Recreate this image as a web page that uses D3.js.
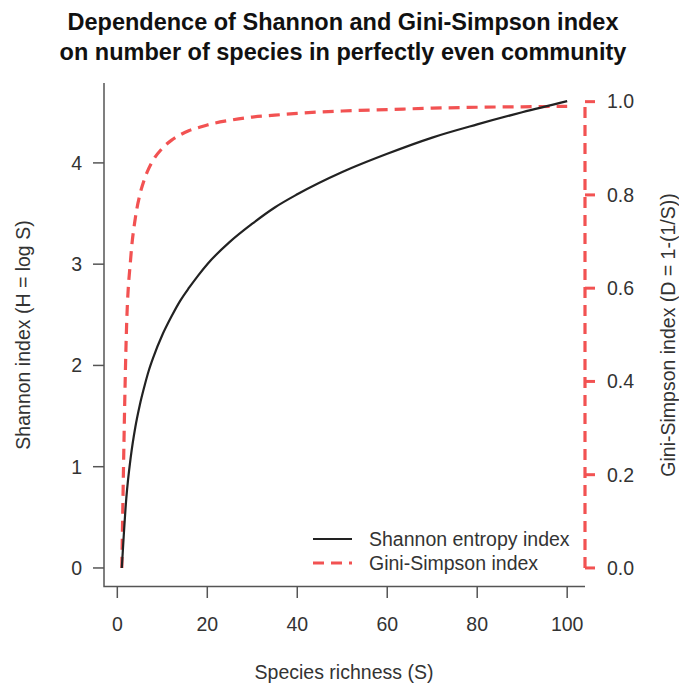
<!DOCTYPE html>
<html lang="en">
  <head>
    <meta charset="UTF-8" />
    <title>Shannon vs Gini-Simpson</title>
    <style>
      body { margin: 0; background: #fff; }
      svg text { font-family: "Liberation Sans", Arial, sans-serif; fill: #333; }
    </style>
  </head>
  <body>
    <svg id="svg" width="679" height="683"></svg>
    <script src="https://d3js.org/d3.v7.min.js"></script>
    <script>
      // species richness and the two indices
      const species = [1, 2, 3, 4, 5, 6, 7, 8, 10, 12, 14, 16, 18, 20, 25, 30, 35, 40, 50, 60, 70, 80, 90, 100];
      const shannon = [0, 0.69, 1.10, 1.39, 1.61, 1.79, 1.95, 2.08, 2.30, 2.48, 2.64, 2.77, 2.89, 3.00, 3.22, 3.40, 3.56, 3.69, 3.91, 4.09, 4.25, 4.38, 4.50, 4.61];
      const gini = [0, 0.5, 0.667, 0.75, 0.8, 0.833, 0.857, 0.875, 0.9, 0.917, 0.929, 0.938, 0.944, 0.95, 0.96, 0.967, 0.971, 0.975, 0.98, 0.983, 0.986, 0.988, 0.989, 0.99];
      const xTicks = [0, 20, 40, 60, 80, 100];
      const leftTicks = [0, 1, 2, 3, 4];
      const rightTicks = [0, 0.2, 0.4, 0.6, 0.8, 1.0];

      const red = "#f25252";
      const axisCol = "#555";
      const fs = "19.5px";
      const svg = d3.select("#svg");

      // plot region (R style, 4% padding)
      const x = d3.scaleLinear().domain([-2.96, 103.96]).range([104, 585]);
      const yL = d3.scaleLinear().domain([-0.184, 4.789]).range([586.6, 83]);
      const yR = d3.scaleLinear().domain([-0.04, 1.04]).range([586.6, 83]);

      const pts = species.map((s, i) => ({ s, h: shannon[i], d: gini[i] }));

      // title
      svg.append("text").attr("x", 343).attr("y", 22).attr("dy", "0.35em").attr("text-anchor", "middle")
        .style("font-weight", "bold").style("font-size", "23.5px").style("fill", "#111")
        .text("Dependence of Shannon and Gini-Simpson index");
      svg.append("text").attr("x", 343).attr("y", 52).attr("dy", "0.35em").attr("text-anchor", "middle")
        .style("font-weight", "bold").style("font-size", "23.5px").style("fill", "#111")
        .text("on number of species in perfectly even community");

      // left + bottom axis lines (bty="l")
      svg.append("path")
        .attr("d", `M${x.range()[0]},${yL.range()[1]}V${yL.range()[0]}H${x.range()[1]}`)
        .attr("fill", "none").attr("stroke", axisCol).attr("stroke-width", 1.5);

      // left ticks
      const gl = svg.append("g");
      gl.selectAll("line").data(leftTicks).join("line")
        .attr("x1", 93).attr("x2", 104)
        .attr("y1", d => yL(d)).attr("y2", d => yL(d))
        .attr("stroke", axisCol).attr("stroke-width", 1.5);
      gl.selectAll("text").data(leftTicks).join("text")
        .attr("x", 82).attr("y", d => yL(d)).attr("dy", "0.35em")
        .attr("text-anchor", "end").style("font-size", fs)
        .text(d => d);

      // bottom ticks
      const gb = svg.append("g");
      gb.selectAll("line").data(xTicks).join("line")
        .attr("x1", d => x(d)).attr("x2", d => x(d))
        .attr("y1", 586.6).attr("y2", 598)
        .attr("stroke", axisCol).attr("stroke-width", 1.5);
      gb.selectAll("text").data(xTicks).join("text")
        .attr("x", d => x(d)).attr("y", 624).attr("dy", "0.35em")
        .attr("text-anchor", "middle").style("font-size", fs)
        .text(d => d);

      // right axis, red dashed
      const gr = svg.append("g");
      gr.append("line")
        .attr("x1", 585).attr("x2", 585)
        .attr("y1", yR(0)).attr("y2", yR(1))
        .attr("stroke", red).attr("stroke-width", 3.2).attr("stroke-dasharray", "11,7");
      gr.selectAll("line.tk").data(rightTicks).join("line").attr("class", "tk")
        .attr("x1", 585).attr("x2", 595)
        .attr("y1", d => yR(d)).attr("y2", d => yR(d))
        .attr("stroke", red).attr("stroke-width", 3);
      gr.selectAll("text").data(rightTicks).join("text")
        .attr("x", 607).attr("y", d => yR(d)).attr("dy", "0.35em")
        .style("font-size", fs)
        .text(d => d.toFixed(1));

      // axis titles
      svg.append("text").attr("x", 344).attr("y", 672).attr("dy", "0.35em")
        .attr("text-anchor", "middle").style("font-size", fs)
        .text("Species richness (S)");
      svg.append("text").attr("transform", "translate(23,335) rotate(-90)")
        .attr("dy", "0.35em").attr("text-anchor", "middle").style("font-size", fs)
        .text("Shannon index (H = log S)");
      svg.append("text").attr("transform", "translate(668,335) rotate(-90)")
        .attr("dy", "0.35em").attr("text-anchor", "middle").style("font-size", fs)
        .text("Gini-Simpson index (D = 1-(1/S))");

      // lines
      svg.append("path").datum(pts)
        .attr("d", d3.line().x(d => x(d.s)).y(d => yR(d.d)).curve(d3.curveMonotoneX))
        .attr("fill", "none").attr("stroke", red).attr("stroke-width", 3.2)
        .attr("stroke-dasharray", "11,7");
      svg.append("path").datum(pts)
        .attr("d", d3.line().x(d => x(d.s)).y(d => yL(d.h)).curve(d3.curveMonotoneX))
        .attr("fill", "none").attr("stroke", "#222").attr("stroke-width", 2.2);

      // legend
      const legend = [
        { label: "Shannon entropy index", color: "#222", dash: null, w: 2.2 },
        { label: "Gini-Simpson index", color: red, dash: "11,7", w: 3.2 }
      ];
      const lg = svg.append("g");
      legend.forEach((l, i) => {
        const yy = 539 + i * 24;
        lg.append("line").attr("x1", 313).attr("x2", 352).attr("y1", yy).attr("y2", yy)
          .attr("stroke", l.color).attr("stroke-width", l.w)
          .attr("stroke-dasharray", l.dash);
        lg.append("text").attr("x", 369).attr("y", yy).attr("dy", "0.35em")
          .style("font-size", fs).text(l.label);
      });
    </script>
  </body>
</html>
